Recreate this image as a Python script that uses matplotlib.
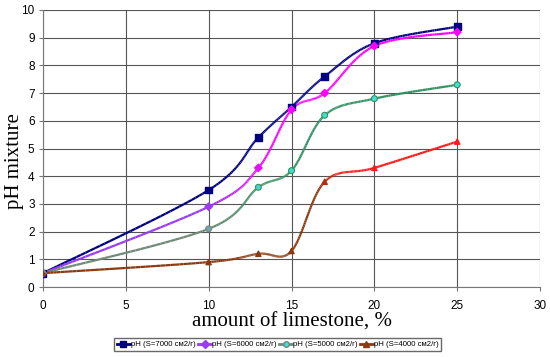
import numpy as np
import matplotlib
matplotlib.use("Agg")
import matplotlib.pyplot as plt
from matplotlib.collections import LineCollection
from matplotlib.lines import Line2D
from matplotlib.colors import to_rgb

# data
limestone = [0, 10, 13, 15, 17, 20, 25]
ph_7000 = [0.5, 3.5, 5.4, 6.5, 7.6, 8.8, 9.4]
ph_6000 = [0.5, 2.9, 4.3, 6.4, 7.0, 8.7, 9.2]
ph_5000 = [0.5, 2.1, 3.6, 4.2, 6.2, 6.8, 7.3]
ph_4000 = [0.5, 0.9, 1.2, 1.3, 3.8, 4.3, 5.25]
labels = ["pH (S=7000 см2/г)", "pH (S=6000 см2/г)",
          "pH (S=5000 см2/г)", "pH (S=4000 см2/г)"]


def smooth(x, y, n=40):
    # Excel-like smoothed line (Catmull-Rom as cubic Bezier)
    p = np.column_stack([x, y]).astype(float)
    p = np.vstack([p[0], p, p[-1]])
    out = []
    for i in range(1, len(p) - 2):
        p0, p1, p2, p3 = p[i - 1], p[i], p[i + 1], p[i + 2]
        c1 = p1 + (p2 - p0) / 6
        c2 = p2 - (p3 - p1) / 6
        t = np.linspace(0, 1, n)[:, None]
        out.append((1 - t) ** 3 * p1 + 3 * (1 - t) ** 2 * t * c1
                   + 3 * (1 - t) * t ** 2 * c2 + t ** 3 * p2)
    return np.vstack(out)


def blend(ca, cb, x, x0, x1):
    f = np.clip((x - x0) / (x1 - x0), 0, 1)
    a, b = np.array(to_rgb(ca)), np.array(to_rgb(cb))
    return a * (1 - f) + b * f


fig = plt.figure(figsize=(5.5, 3.57), dpi=100)
ax = fig.add_axes([0.078, 0.196, 0.904, 0.776])

series = [
    (ph_7000, "#000080", "#000080", 10, 13, "s"),
    (ph_6000, "#9a3cf0", "#ff00ff", 10, 14, "D"),
    (ph_5000, "#6f8a78", "#2f9060", 10, 14, "o"),
    (ph_4000, "#8b3a10", "#ff1a1a", 16.5, 18, "^"),
]

handles = []
for ys, ca, cb, x0, x1, mk in series:
    pts = smooth(limestone, ys)
    segs = np.stack([pts[:-1], pts[1:]], axis=1)
    mid = (pts[:-1, 0] + pts[1:, 0]) / 2
    cols = [blend(ca, cb, m, x0, x1) for m in mid]
    ax.add_collection(LineCollection(segs, colors=cols, linewidths=1.6, zorder=3))
    xs = np.array(limestone, dtype=float)
    mcols = [blend(ca, cb, v, x0, x1) for v in xs]
    if mk == "o":
        face = [blend("#7aa0b0", "#40e0d0", v, x0, x1) for v in xs]
        ax.scatter(xs, ys, marker=mk, s=18, facecolors=face, edgecolors=mcols,
                   linewidths=0.8, zorder=4)
    else:
        size = 24 if mk == "s" else 14
        ax.scatter(xs, ys, marker=mk, s=size, color=mcols, zorder=4)
    handles.append(Line2D([], [], color=ca, lw=2, marker=mk, markersize=4,
                          markerfacecolor=ca if mk != "o" else "#40e0d0",
                          markeredgecolor=ca))

ax.set_xlim(0, 30)
ax.set_ylim(0, 10)
ax.set_xticks(range(0, 31, 5))
ax.set_yticks(range(0, 11))
ax.grid(True, color="#555555", linewidth=0.8)
ax.set_axisbelow(True)
for s in ["top", "right"]:
    ax.spines[s].set_visible(False)
ax.spines["left"].set_color("#777777")
ax.spines["bottom"].set_color("#777777")
ax.tick_params(labelsize=8.5, length=3, color="#777777", pad=3)
for lab in ax.get_xticklabels() + ax.get_yticklabels():
    lab.set_family("Liberation Sans")
ax.tick_params(axis="x", pad=6)

ax.set_xlabel("amount of limestone, %", family="Liberation Serif",
              fontsize=15, labelpad=1)
ax.set_ylabel("pH mixture", family="Liberation Serif", fontsize=15)
ax.yaxis.set_label_coords(-0.038, 0.455)

fig.legend(handles, labels, loc="center", bbox_to_anchor=(0.505, 0.035),
           ncol=4, prop={"family": "Liberation Sans", "size": 5.6},
           frameon=True, fancybox=False, edgecolor="#444444",
           handlelength=1.7, handletextpad=0.1, columnspacing=0.3,
           borderpad=0.35)

fig.savefig("out.png", dpi=100)
